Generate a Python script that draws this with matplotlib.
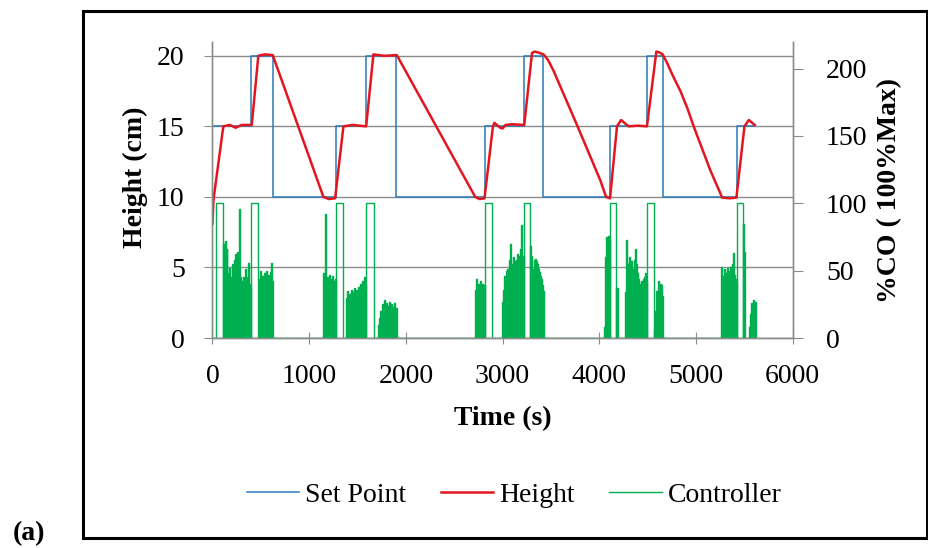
import numpy as np
import matplotlib
matplotlib.use("Agg")
import matplotlib.pyplot as plt
from matplotlib.patches import Rectangle

plt.rcParams["font.family"] = ["Liberation Serif", "DejaVu Serif"]

# Set point (cm), step changes
sp_t = [0, 400, 625, 1275, 1590, 1895, 2815, 3225, 3420, 4110, 4495, 4655, 5425, 5615]
sp_v = [15, 20, 10, 15, 20, 10, 15, 20, 10, 15, 20, 10, 15, 15]

# Measured height (cm)
h_t = [0, 10, 112, 180, 240, 300, 406,
       474, 540, 623,
       1147, 1200, 1268,
       1354, 1450, 1589,
       1664, 1780, 1906,
       2717, 2760, 2813,
       2900, 2915, 2975, 3000, 3030, 3100, 3224,
       3304, 3330, 3360, 3424,
       3470, 3527, 3769, 4011, 4070, 4111,
       4183, 4225, 4303, 4400, 4493,
       4590, 4620, 4655,
       4701, 4760, 4839, 4910, 4976, 5149, 5252, 5270, 5350, 5418,
       5501, 5546, 5607]
h_v = [8.1, 9.8, 15.0, 15.1, 14.9, 15.1, 15.1,
       20.0, 20.1, 20.05,
       10.0, 9.85, 9.9,
       15.0, 15.1, 15.0,
       20.1, 20.0, 20.05,
       10.0, 9.85, 9.9,
       15.0, 15.25, 14.9, 14.85, 15.1, 15.15, 15.1,
       20.2, 20.3, 20.25, 20.1,
       19.7, 18.94, 15.1, 11.17, 10.0, 9.9,
       15.0, 15.45, 15.0, 15.05, 15.0,
       20.3, 20.25, 20.1,
       19.5, 18.6, 17.5, 16.3, 15.0, 11.87, 10.25, 9.95, 9.9, 9.95,
       15.0, 15.45, 15.1]

# Controller output (%CO): saturated pulses at 100 and noisy stretches
pulse_on = [36, 400, 1275, 1590, 2815, 3225, 4110, 4495, 5425]
pulse_off = [105, 467, 1354, 1672, 2889, 3286, 4176, 4563, 5490]

noise_start = [105, 485, 1147, 1378, 1716, 2717, 2995, 3286, 4050, 4176,
               4262, 4563, 5260, 5490, 5546]
noise_step = [10, 10, 10, 10, 10, 9.8, 10, 10, 10, 14, 10, 10, 10, 7, 10]
noise_vals = [
    [70, 62, 72, 50, 66, 48, 42, 52, 45, 40, 55, 47, 58, 62, 48, 64, 55, 96,
     45, 42, 38, 45, 40, 51, 42, 45, 56, 40, 38],
    [44, 50, 42, 46, 40, 48, 45, 50, 43, 47, 44, 49, 56, 42],
    [48, 42, 92, 40, 45, 38, 47, 44, 40, 46, 42, 39, 44],
    [30, 35, 28, 33, 26, 36, 30, 34, 29, 37, 32, 36, 31, 38, 35, 40, 36, 42,
     39, 45, 40],
    [10, 15, 20, 18, 25, 22, 28, 20, 26, 18, 24, 27, 20, 25, 19, 23, 26, 18, 22],
    [36, 44, 38, 40, 35, 42, 37, 40, 36, 39],
    [27, 36, 46, 43, 50, 51, 48, 58, 70, 55, 53, 60, 52, 57, 58, 62, 61, 52,
     64, 66, 84, 60, 61],
    [68, 61, 20, 51, 58, 59, 57, 55, 51, 49, 46, 44, 39, 35],
    [8, 60, 75, 72, 76, 73],
    [37],
    [34, 73, 55, 52, 55, 60, 48, 57, 50, 51, 58, 66, 55, 48, 44, 40, 38, 42,
     40, 44, 45, 48, 42],
    [6, 20, 35, 30, 42, 38, 40, 36, 39, 31],
    [53, 42, 46, 51, 44, 48, 52, 45, 50, 53, 48, 55, 63, 47, 44, 42],
    [85, 64],
    [8, 18, 26, 24, 28, 25, 27],
]
t_end = 5615

BLUE = "#2A7AB8"
RED = "#E3161F"
GREEN = "#00B050"
GRAY = "#8C8C8C"

W, H = 929, 548


def fx(px):
    return px / W


def fy(py):
    return 1 - py / H


def controller_pieces():
    pieces = []
    for on, off in zip(pulse_on, pulse_off):
        pieces.append((np.array([on, on, off, off], float),
                       np.array([0, 100, 100, 0], float), False))
    for start, step, vals in zip(noise_start, noise_step, noise_vals):
        edges = start + step * np.arange(len(vals) + 1)
        xs = np.repeat(edges, 2)
        ys = np.concatenate([[0], np.repeat(vals, 2), [0]])
        pieces.append((xs, ys, True))
    pieces.sort(key=lambda p: p[0][0])
    return pieces


fig = plt.figure(figsize=(W / 100, H / 100), dpi=100)
ax = fig.add_axes([fx(212.5), fy(338), (792.7 - 212.5) / W, (338 - 41.7) / H])
ax2 = ax.twinx()

ax.plot(sp_t, sp_v, drawstyle="steps-post", color=BLUE, lw=1.1, label="Set Point")
ax.plot(h_t, h_v, color=RED, lw=1.8, label="Height")

pieces = controller_pieces()
ct = np.concatenate([[0.0]] + [p[0] for p in pieces] + [[t_end]])
cv = np.concatenate([[0.0]] + [p[1] for p in pieces] + [[0.0]])
for xs, ys, noisy in pieces:
    if noisy:
        ax2.fill(xs, ys, color=GREEN, lw=0)
ax2.plot(ct, cv, color=GREEN, lw=1.0, label="Controller")

ax.set_xlim(0, 6000)
ax.set_ylim(0, 21)
ax2.set_ylim(0, 220)
ax.set_xticks(range(0, 6001, 1000))
ax.set_yticks(range(0, 21, 5))
ax2.set_yticks(range(0, 201, 50))

ax.grid(axis="y", color=GRAY, lw=1.0)
ax.set_axisbelow(True)
for a in (ax, ax2):
    a.spines["top"].set_visible(False)
    for s in ("left", "right", "bottom"):
        a.spines[s].set_color(GRAY)
        a.spines[s].set_linewidth(1.0)

ax.tick_params(axis="x", direction="inout", length=8, color=GRAY, labelsize=20, pad=15)
ax.tick_params(axis="y", direction="out", length=6, color=GRAY, labelsize=20, pad=14)
ax2.tick_params(axis="y", direction="out", length=7, color=GRAY, labelsize=20, pad=17)

fig.text(fx(135), fy(177.5), "Height (cm)", rotation=90, ha="center", va="center",
         fontsize=20, fontweight="bold")
fig.text(fx(890), fy(190), "%CO ( 100%Max)", rotation=90, ha="center", va="center",
         fontsize=20, fontweight="bold")
fig.text(fx(503), fy(419), "Time (s)", ha="center", va="center",
         fontsize=20, fontweight="bold")
fig.text(fx(29), fy(534), "(a)", ha="center", va="center",
         fontsize=20, fontweight="bold")

handles = ax.get_lines() + ax2.get_lines()
fig.legend(handles, [h.get_label() for h in handles], loc="center",
           bbox_to_anchor=(fx(514), fy(495)), ncol=3, frameon=False,
           fontsize=20, handlelength=1.9, handletextpad=0.2, columnspacing=1.25)

fig.patches.append(Rectangle((fx(83), fy(538)), (927 - 83) / W, (538 - 11) / H,
                             transform=fig.transFigure, fill=False,
                             edgecolor="black", lw=2.2))

fig.savefig("out.png", dpi=100)
